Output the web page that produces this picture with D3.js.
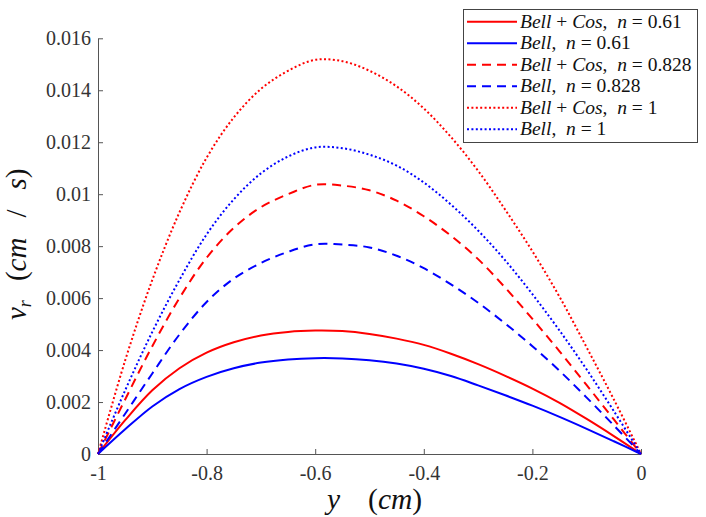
<!DOCTYPE html>
<html><head><meta charset="utf-8">
<script src="https://cdn.jsdelivr.net/npm/d3@7"></script>
<style>body{margin:0;background:#fff}svg{display:block}</style>
</head><body>
<svg id="chart" width="706" height="517"></svg>
<script>
// ---- data ----
const yPos = [-1,-0.95,-0.9,-0.85,-0.8,-0.75,-0.7,-0.65,-0.6,-0.55,-0.5,-0.45,-0.4,-0.35,-0.3,-0.25,-0.2,-0.15,-0.1,-0.05,0];
const bellCos061 = [0,0.00130,0.00245,0.00330,0.00390,0.00430,0.00456,0.00470,0.00475,0.00473,0.00462,0.00444,0.00420,0.00386,0.00346,0.00301,0.00252,0.00197,0.00135,0.00069,0];
const bell061    = [0,0.00095,0.00183,0.00250,0.00297,0.00330,0.00352,0.00364,0.00369,0.00368,0.00361,0.00348,0.00328,0.00300,0.00264,0.00226,0.00186,0.00143,0.00097,0.00049,0];
const bellCos0828= [0,0.00210,0.00415,0.00600,0.00755,0.00870,0.00950,0.01000,0.01036,0.01033,0.01015,0.00975,0.00915,0.00840,0.00750,0.00640,0.00520,0.00395,0.00265,0.00133,0];
const bell0828   = [0,0.00155,0.00310,0.00460,0.00585,0.00675,0.00735,0.00778,0.00807,0.00806,0.00795,0.00763,0.00715,0.00653,0.00582,0.00502,0.00415,0.00320,0.00217,0.00110,0];
const bellCos1   = [0,0.00360,0.00670,0.00930,0.01140,0.01295,0.01405,0.01475,0.01517,0.01512,0.01475,0.01415,0.01330,0.01220,0.01090,0.00940,0.00780,0.00605,0.00410,0.00210,0];
const bell1      = [0,0.00245,0.00470,0.00670,0.00845,0.00980,0.01080,0.01145,0.01180,0.01177,0.01152,0.01110,0.01045,0.00960,0.00860,0.00745,0.00615,0.00475,0.00325,0.00165,0];

const seriesMethods = ["Bell + Cos","Bell","Bell + Cos","Bell","Bell + Cos","Bell"];
const seriesN = ["0.61","0.61","0.828","0.828","1","1"];
const seriesValues = [bellCos061, bell061, bellCos0828, bell0828, bellCos1, bell1];
const seriesColors = ["#ff0000","#0000ff","#ff0000","#0000ff","#ff0000","#0000ff"];
const seriesDash = [null, null, "9,6", "9,6", "2,2.4", "2,2.4"];

const xTicks = [-1,-0.8,-0.6,-0.4,-0.2,0];
const xTickLabels = ["-1","-0.8","-0.6","-0.4","-0.2","0"];
const yTicks = [0,0.002,0.004,0.006,0.008,0.01,0.012,0.014,0.016];
const yTickLabels = ["0","0.002","0.004","0.006","0.008","0.01","0.012","0.014","0.016"];

// ---- drawing ----
const svg = d3.select("#chart");
const serif = "'Liberation Serif','DejaVu Serif',serif";
const axisColor = "#555";
const textColor = "#333";

const x = d3.scaleLinear().domain([-1,0]).range([98,641]);
const y = d3.scaleLinear().domain([0,0.016]).range([454,38.3]);

const gx = svg.append("g").attr("transform","translate(0,454)")
  .call(d3.axisBottom(x).tickValues(xTicks).tickFormat((d,i)=>xTickLabels[i])
        .tickSizeInner(-5).tickSizeOuter(0).tickPadding(12));
const gy = svg.append("g").attr("transform","translate(98,0)")
  .call(d3.axisLeft(y).tickValues(yTicks).tickFormat((d,i)=>yTickLabels[i])
        .tickSizeInner(-5).tickSizeOuter(0).tickPadding(7));
[gx,gy].forEach(g=>{
  g.attr("font-family",serif).attr("font-size",20);
  g.select(".domain").attr("stroke",axisColor);
  g.selectAll(".tick line").attr("stroke",axisColor);
  g.selectAll(".tick text").attr("fill",textColor);
});

const line = d3.line().x(d=>x(d[0])).y(d=>y(d[1])).curve(d3.curveCatmullRom.alpha(0.5));
seriesValues.forEach((vals,i)=>{
  svg.append("path")
    .datum(yPos.map((p,j)=>[p,vals[j]]))
    .attr("fill","none")
    .attr("stroke",seriesColors[i])
    .attr("stroke-width",2)
    .attr("stroke-dasharray",seriesDash[i])
    .attr("d",line);
});

// axis labels
const xl = svg.append("text").attr("x",327).attr("y",509)
  .attr("font-family",serif).attr("font-size",29.5).attr("fill","#111");
xl.append("tspan").attr("font-style","italic").text("y");
xl.append("tspan").attr("dx",28).text("(");
xl.append("tspan").attr("font-style","italic").text("cm");
xl.append("tspan").text(")");

const yl = svg.append("text").attr("transform","translate(26,320) rotate(-90)")
  .attr("font-family",serif).attr("font-size",29).attr("fill","#111");
yl.append("tspan").attr("font-style","italic").text("v");
yl.append("tspan").attr("font-style","italic").attr("font-size",18).attr("dy",5).text("r");
yl.append("tspan").attr("dy",-5).attr("dx",19).text("(");
yl.append("tspan").attr("font-style","italic").text("cm");
yl.append("tspan").attr("dx",20).text("/");
yl.append("tspan").attr("dx",20).attr("font-style","italic").text("s");
yl.append("tspan").text(")");

// legend
const lg = svg.append("g");
lg.append("rect").attr("x",463.5).attr("y",9.5).attr("width",234).attr("height",133)
  .attr("fill","#fff").attr("stroke","#444").attr("stroke-width",1);
seriesMethods.forEach((m,i)=>{
  const cy = 21.7 + i*21.5;
  lg.append("line").attr("x1",467).attr("x2",517).attr("y1",cy).attr("y2",cy)
    .attr("stroke",seriesColors[i]).attr("stroke-width",2).attr("stroke-dasharray",seriesDash[i]);
  const t = lg.append("text").attr("x",520).attr("y",cy+6).attr("font-family",serif)
    .attr("font-size",19.5).attr("fill","#111").attr("xml:space","preserve");
  const parts = m.split(" + ");
  t.append("tspan").attr("font-style","italic").text(parts[0]);
  if(parts.length>1){
    t.append("tspan").text(" + ");
    t.append("tspan").attr("font-style","italic").text(parts[1]);
  }
  t.append("tspan").text(",  ");
  t.append("tspan").attr("font-style","italic").text("n");
  t.append("tspan").text(" = " + seriesN[i]);
});
</script>
</body></html>
